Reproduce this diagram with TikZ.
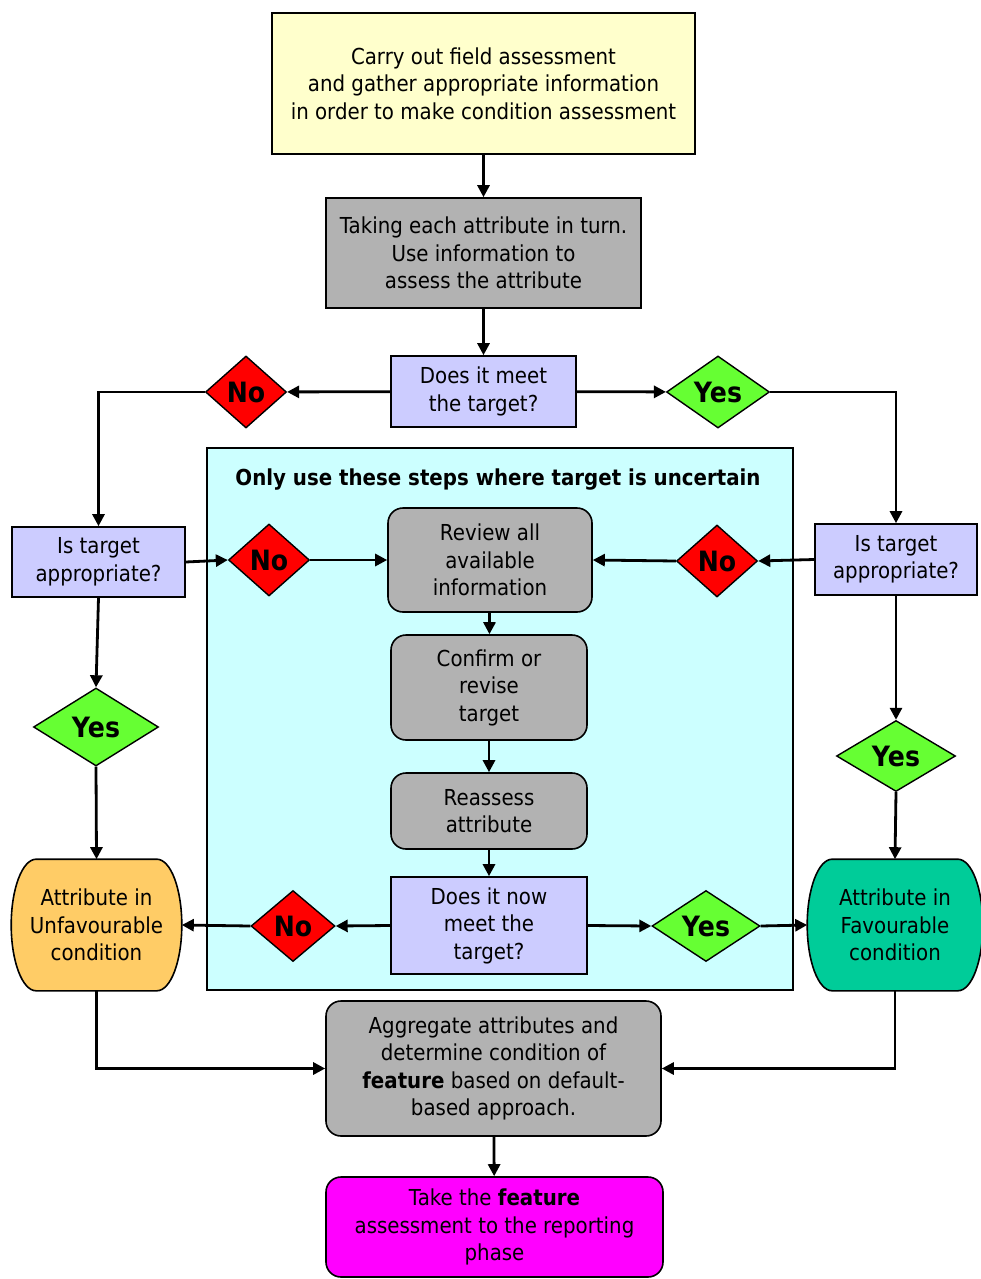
\documentclass[tikz,border=0pt]{standalone}
\usepackage{fontspec}
\setmainfont{DejaVu Sans}[FakeStretch=0.9]
\usetikzlibrary{shapes.geometric,arrows.meta,backgrounds}
\definecolor{kyellow}{HTML}{FFFFCC}
\definecolor{kgrey}{HTML}{B2B2B2}
\definecolor{klav}{HTML}{CCCCFF}
\definecolor{kred}{HTML}{FF0000}
\definecolor{kgreen}{HTML}{66FF33}
\definecolor{kcyan}{HTML}{CCFFFF}
\definecolor{korange}{HTML}{FFCC66}
\definecolor{kteal}{HTML}{00CC99}
\definecolor{kmagenta}{HTML}{FF00FF}
\tikzset{
  box/.style={draw,line width=1.6pt,align=center,inner sep=0pt,font=\fontsize{22}{27.5}\selectfont},
  rbox/.style={box,rounded corners=15pt},
  dec/.style={diamond,draw,line width=1.4pt,inner sep=0pt,font=\fontsize{28}{30}\selectfont\bfseries},
  no/.style={dec,fill=kred,minimum width=81,minimum height=72},
  yes/.style={dec,fill=kgreen},
  conn/.style={line width=2.8pt,-{Triangle[length=12pt,width=12pt]}},
}
% outcome shape with bulging sides
\newcommand{\bulgebox}[2]{%
  \draw[line width=1.6pt,fill=#2]([xshift=25]#1.north west)--([xshift=-25]#1.north east)
    .. controls +(14,0) and +(0,-36) .. (#1.east)
    .. controls +(0,36) and +(14,0) .. ([xshift=-25]#1.south east)
    --([xshift=25]#1.south west)
    .. controls +(-14,0) and +(0,36) .. (#1.west)
    .. controls +(0,-36) and +(-14,0) .. cycle;}
\begin{document}
\begin{tikzpicture}[x=1pt,y=-1pt]
\useasboundingbox(0,0)rectangle(981,1279);
% zone for uncertain targets
\node[draw,line width=1.2pt,fill=kcyan,minimum width=586,minimum height=542](zone)at(500,719){};
\node[font=\fontsize{22}{24}\selectfont\bfseries](zonetitle)at(498,480){Only use these steps where target is uncertain};
% main column
\node[box,fill=kyellow,minimum width=423,minimum height=141](field)at(483.5,83.5){Carry out field assessment\\and gather appropriate information\\in order to make condition assessment};
\node[box,fill=kgrey,minimum width=315,minimum height=110](each)at(483.5,253){Taking each attribute in turn.\\Use information to\\assess the attribute};
\node[box,fill=klav,minimum width=185,minimum height=71](meet)at(483.5,391.5){Does it meet\\the target?};
\node[no](no1)at(246,392){No};
\node[yes,minimum width=103,minimum height=72](yes1)at(718,392){Yes};
\node[box,fill=klav,minimum width=173,minimum height=70](isl)at(98.5,562){Is target\\appropriate?};
\node[box,fill=klav,minimum width=162,minimum height=71](isr)at(896,559.5){Is target\\appropriate?};
\node[no](noL)at(269,560){No};
\node[no](noR)at(717,561){No};
\node[rbox,fill=kgrey,minimum width=204,minimum height=104](review)at(490,560){Review all\\available\\information};
\node[rbox,fill=kgrey,minimum width=196,minimum height=105](confirm)at(489,687.5){Confirm or\\revise\\target};
\node[rbox,fill=kgrey,minimum width=196,minimum height=76](reassess)at(489,811){Reassess\\attribute};
\node[box,fill=klav,minimum width=196,minimum height=97](nowmeet)at(489,925.5){Does it now\\meet the\\target?};
\node[no,minimum width=84,minimum height=71](noB)at(293,926){No};
\node[yes,minimum width=108,minimum height=71](yesB)at(706,926){Yes};
\node[yes,minimum width=125,minimum height=78](yesL)at(96,727){Yes};
\node[yes,minimum width=119,minimum height=71](yesR)at(896,756){Yes};
% outcomes
\node[box,draw=none,minimum width=169,minimum height=130](unfav)at(96.5,925){Attribute in\\Unfavourable\\condition};
\node[box,draw=none,minimum width=174,minimum height=130](fav)at(895,925){Attribute in\\Favourable\\condition};
\begin{scope}[on background layer]
\bulgebox{unfav}{korange}
\bulgebox{fav}{kteal}
\end{scope}
\node[rbox,fill=kgrey,minimum width=335,minimum height=135](agg)at(493.5,1068.5){Aggregate attributes and\\determine condition of\\\textbf{feature} based on default-\\based approach.};
\node[rbox,fill=kmagenta,minimum width=337,minimum height=100](report)at(494.5,1227){Take the \textbf{feature}\\assessment to the reporting\\phase};
% connectors
\draw[conn](field)--(each);
\draw[conn](each)--(meet);
\draw[conn](meet)--(no1);
\draw[conn](meet)--(yes1);
\draw[conn](no1.west)-|(isl.north);
\draw[conn](yes1.east)-|(isr.north);
\draw[conn](isl.east)--(noL.west);
\draw[conn](noL.east)--(review.west);
\draw[conn](isr.west)--(noR.east);
\draw[conn](noR.west)--(review.east);
\draw[conn](review)--(confirm);
\draw[conn](confirm)--(reassess);
\draw[conn](reassess)--(nowmeet);
\draw[conn](nowmeet.west)--(noB.east);
\draw[conn](noB.west)--(unfav.east);
\draw[conn](nowmeet.east)--(yesB.west);
\draw[conn](yesB.east)--(fav.west);
\draw[conn](isl.south)--(yesL.north);
\draw[conn](yesL.south)--(unfav.north);
\draw[conn](isr.south)--(yesR.north);
\draw[conn](yesR.south)--(fav.north);
\draw[conn](unfav.south)|-(agg.west);
\draw[conn](fav.south)|-(agg.east);
\draw[conn](agg)--(report);
\end{tikzpicture}
\end{document}
